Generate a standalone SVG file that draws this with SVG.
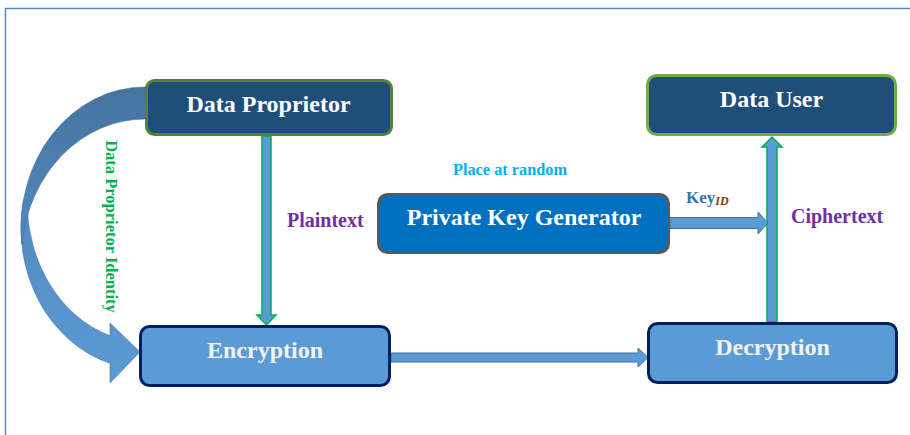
<svg xmlns="http://www.w3.org/2000/svg" width="910" height="435" viewBox="0 0 910 435">
  <defs>
    <linearGradient id="backBand" x1="0" y1="0" x2="0" y2="1">
      <stop offset="0" stop-color="#45749f"/>
      <stop offset="1" stop-color="#5289c0"/>
    </linearGradient>
    <linearGradient id="frontBand" x1="0" y1="0" x2="0" y2="1">
      <stop offset="0" stop-color="#5288c0"/>
      <stop offset="1" stop-color="#5b9bd5"/>
    </linearGradient>
    <style>
      .box { stroke-width: 3; }
      .dark { fill: #1f4e79; }
      .dp { stroke: #548235; }
      .du { stroke: #70ad47; }
      .pkg { fill: #0070c0; stroke: #595959; }
      .proc { fill: #5b9bd5; stroke: #002060; }
      .title { font-family: "Liberation Serif", "Times New Roman", serif; font-weight: bold; font-size: 24px; text-anchor: middle; fill: #ffffff; }
      .proc-title { fill: #f2f2f2; }
      .lbl { font-family: "Liberation Serif", "Times New Roman", serif; font-weight: bold; }
      .purple { fill: #7030a0; font-size: 20px; }
      .green-arrow { fill: #5b9bd5; stroke: #00b050; stroke-width: 1.5; }
      .blue-arrow { fill: #5b9bd5; stroke: #41719c; stroke-width: 1; }
    </style>
  </defs>

  <!-- outer frame -->
  <rect x="5.5" y="8.5" width="930" height="450" fill="none" stroke="#5b87bd" stroke-width="1.5"/>

  <g id="connectors">
    <!-- curved arrow: Data Proprietor identity to Encryption (front part, then back part) -->
    <path d="M23.3,201 A124,141 0 0 0 110,363.3 L110,383 L140,352 L110,323 L110,335.7 A118,141 0 0 1 27,201 Z" fill="url(#frontBand)" stroke="#41719c" stroke-width="0.6"/>
    <path d="M155,87 L145,87 A124,141 0 0 0 21.8,244 A124,141 0 0 1 145,119 L155,119 Z" fill="url(#backBand)" stroke="#41719c" stroke-width="0.6"/>
    <!-- plaintext: Data Proprietor to Encryption -->
    <path class="green-arrow" d="M262,136 L271,136 L271,315 L276,315 L266.5,325 L257,315 L262,315 Z"/>
    <!-- ciphertext: Decryption to Data User -->
    <path class="green-arrow" d="M767,322 L777,322 L777,147 L782,147 L772,137 L762,147 L767,147 Z"/>
    <!-- key from the generator -->
    <path class="blue-arrow" d="M670,217.5 L758,217.5 L758,212 L768,223 L758,234 L758,228.5 L670,228.5 Z"/>
    <!-- Encryption to Decryption -->
    <path class="blue-arrow" d="M391,353 L638,353 L638,348 L648,357.5 L638,367 L638,362 L391,362 Z"/>
  </g>

  <g id="data-proprietor">
    <rect class="box dark dp" x="146.5" y="80.5" width="245" height="54" rx="8"/>
    <text class="title" x="268.5" y="112">Data Proprietor</text>
  </g>

  <g id="data-user">
    <rect class="box dark du" x="647.5" y="75.5" width="248" height="59" rx="9"/>
    <text class="title" x="771.5" y="107">Data User</text>
  </g>

  <g id="private-key-generator">
    <rect class="box pkg" x="378.5" y="194.5" width="290" height="58" rx="9"/>
    <text class="title" x="524" y="225">Private Key Generator</text>
  </g>

  <g id="encryption">
    <rect class="box proc" x="140.5" y="326.5" width="249" height="59" rx="9"/>
    <text class="title proc-title" x="265" y="358">Encryption</text>
  </g>

  <g id="decryption">
    <rect class="box proc" x="648.5" y="323.5" width="248" height="59" rx="9"/>
    <text class="title proc-title" x="772.5" y="355">Decryption</text>
  </g>

  <g id="labels">
    <text class="lbl" x="510" y="175" font-size="16.3" fill="#00b0f0" text-anchor="middle">Place at random</text>
    <text class="lbl purple" x="287" y="227">Plaintext</text>
    <text class="lbl purple" x="791" y="223">Ciphertext</text>
    <text class="lbl" x="686" y="203" font-size="17" fill="#2e75b6">Key<tspan font-size="12" font-style="italic" fill="#843c0c" dy="2">ID</tspan></text>
    <text class="lbl" transform="translate(106,226.5) rotate(90)" font-size="16.5" fill="#00b050" text-anchor="middle">Data Proprietor Identity</text>
  </g>
</svg>
